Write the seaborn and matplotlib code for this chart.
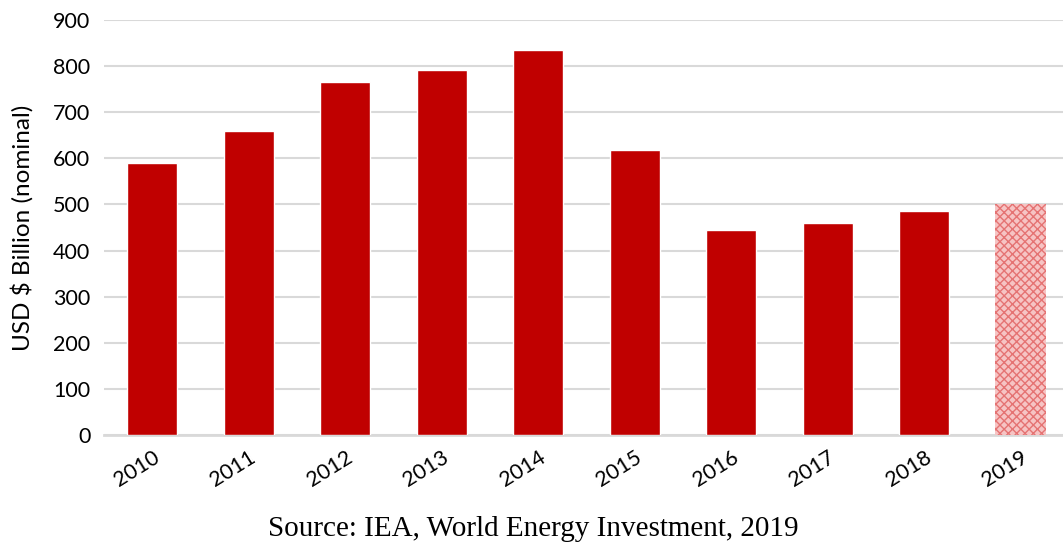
import seaborn as sns
import pandas as pd
import matplotlib.pyplot as plt

years = ["2010", "2011", "2012", "2013", "2014", "2015", "2016", "2017", "2018", "2019"]
investment = [590, 659, 765, 792, 835, 619, 445, 459, 485, 500]

df = pd.DataFrame({"year": years, "usd_bn": investment})

sns.set_style("white")
plt.rcParams['font.family'] = ['Lato', 'DejaVu Sans']
plt.rcParams['text.color'] = 'black'
plt.rcParams['xtick.color'] = 'black'
plt.rcParams['ytick.color'] = 'black'
plt.rcParams['axes.labelcolor'] = 'black'
plt.rcParams['hatch.linewidth'] = 1.0

fig = plt.figure(figsize=(10.63, 5.43), dpi=100)
ax = fig.add_axes([0.098, 0.199, 0.902, 0.764])

sns.barplot(data=df, x="year", y="usd_bn", color="#c00000", saturation=1,
            width=0.52, ax=ax, zorder=3)

# forecast year drawn as a light hatched bar
last = ax.patches[-1]
last.set_facecolor("#f6c4c4")
last.set_edgecolor("#e57373")
last.set_hatch("xxxx")
last.set_linewidth(0)

ax.set_ylim(0, 900)
ax.set_yticks(range(0, 901, 100))
ax.set_xlim(-0.5, 9.44)
ax.yaxis.grid(True, color="#d9d9d9", linewidth=1.5, zorder=0)
ax.set_axisbelow(True)
for s in ["top", "right", "left"]:
    ax.spines[s].set_visible(False)
ax.spines["bottom"].set_color("#d9d9d9")
ax.spines["bottom"].set_linewidth(2)

ax.tick_params(axis="y", length=0, labelsize=15.5, pad=10)
ax.tick_params(axis="x", length=0, labelsize=15.5, pad=9)
plt.setp(ax.get_xticklabels(), rotation=32, ha="right", rotation_mode="anchor")
ax.set_xlabel("")
ax.set_ylabel("USD $ Billion (nominal)", fontsize=17.5, labelpad=14)

fig.text(0.502, 0.002, "Source: IEA, World Energy Investment, 2019",
         ha="center", va="bottom", fontsize=21, family="Liberation Serif")

plt.savefig("out.png", dpi=100)
